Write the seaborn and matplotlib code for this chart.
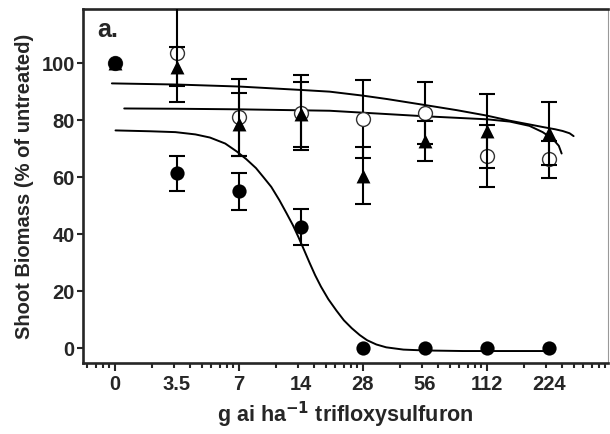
import numpy as np
import pandas as pd
import matplotlib
matplotlib.use("Agg")
import matplotlib.pyplot as plt
import matplotlib.ticker as mticker
import seaborn as sns

# rates (g ai/ha) and labels
doses = [0, 3.5, 7, 14, 28, 56, 112, 224]
dose_labels = ["0", "3.5", "7", "14", "28", "56", "112", "224"]

# shoot biomass, % of untreated, with SE
filled_mean = [100, 61.3, 55.0, 42.6, 0, 0, 0, 0]
filled_se = [0, 6.0, 6.6, 6.3, 0, 0, 0, 0]
open_mean = [100, 103.5, 81.0, 82.6, 80.4, 82.5, 67.4, 66.2]
open_se = [0, 17.0, 13.4, 13.2, 13.7, 10.8, 11.0, 6.4]
tri_mean = [100, 98.8, 78.6, 82.0, 60.5, 72.7, 76.2, 75.4]
tri_se = [0, 6.8, 11.0, 11.5, 10.0, 7.1, 12.9, 11.0]

# fitted curves
low_fit_dose = [1.76, 2.6, 3.44, 4.3, 5.06, 6.0, 6.83, 7.6, 8.46, 9.2, 10.04,
                11.0, 11.9, 12.8, 13.6, 14.5, 15.4, 16.4, 17.5, 19.0, 20.8,
                22.6, 24.7, 27.0, 29.3, 32.5, 36.3, 44, 55.7, 85.5, 224]
low_fit_val = [76.4, 76.1, 75.8, 75.0, 73.9, 71.8, 69.0, 66.3, 63.2, 60.0, 56.6,
               51.9, 47.4, 43.1, 39.0, 34.4, 30.0, 25.6, 21.6, 17.2, 13.2,
               9.8, 7.0, 4.6, 2.8, 1.3, 0.3, -0.5, -0.8, -1.0, -1.0]
top_fit_dose = [1.69, 3.5, 7, 14, 19.3, 28, 36.7, 56, 80, 111.7, 144.6, 180,
                208.7, 240, 261, 282, 295]
top_fit_val = [92.9, 92.5, 91.8, 90.6, 90.0, 88.6, 87.4, 85.3, 83.5, 81.6,
               79.8, 78.5, 77.6, 76.8, 76.2, 75.4, 74.4]
mid_fit_dose = [1.94, 3.5, 7, 19.3, 54.8, 112, 144.6, 180, 208.7, 233.8, 250,
                258]
mid_fit_val = [84.1, 84.0, 83.8, 83.3, 81.4, 80.3, 79.5, 78.0, 75.8, 73.4,
               71.0, 68.3]

ZERO_AT = 1.75  # untreated plotted one doubling left of 3.5


def xpos(d):
    # one decade of the log axis = two doublings of rate
    d = np.asarray(d, dtype=float)
    d = np.where(d > 0, d, ZERO_AT)
    return 10 ** (np.log2(d / ZERO_AT) / 2)


sns.set_style("ticks")
plt.rcParams["font.family"] = ["Liberation Sans", "DejaVu Sans"]
plt.rcParams["font.weight"] = "bold"
plt.rcParams["mathtext.default"] = "bf"

fig = plt.figure(figsize=(6.1, 4.34), dpi=100)
ax = fig.add_axes([83 / 610, 1 - 363 / 434, 525 / 610, 354 / 434])
ax.set_xscale("log")

for d, v in [(low_fit_dose, low_fit_val), (top_fit_dose, top_fit_val),
             (mid_fit_dose, mid_fit_val)]:
    sns.lineplot(x=xpos(d), y=v, ax=ax, color="black", lw=1.4,
                 sort=False, estimator=None, zorder=2)

series = [
    (open_mean, open_se, dict(marker="o", s=100, facecolor="white",
                              edgecolor="#333333", linewidth=1.0)),
    (tri_mean, tri_se, dict(marker="^", s=100, color="black", linewidth=0)),
    (filled_mean, filled_se, dict(marker="o", s=105, color="black", linewidth=0)),
]
x = xpos(doses)
for k, (m, se, style) in enumerate(series):
    se = np.array(se, dtype=float)
    se[se == 0] = np.nan
    ax.errorbar(x, m, yerr=se, fmt="none", ecolor="black", elinewidth=1.5,
                capsize=5.5, capthick=1.5, zorder=3 + 2 * k)
    sns.scatterplot(x=x, y=m, ax=ax, zorder=4 + 2 * k, **style)

ax.set_xlim(0.552, 9460)
ax.set_ylim(-5.2, 119)
ax.set_yticks([0, 20, 40, 60, 80, 100])

ax.set_xticks(xpos(doses))
ax.set_xticklabels(dose_labels)
ax.xaxis.set_minor_locator(mticker.LogLocator(base=10, subs=np.arange(2, 10)))
ax.xaxis.set_minor_formatter(mticker.NullFormatter())
ax.tick_params(axis="x", which="major", length=0, pad=8.5, labelsize=14.5)
ax.tick_params(axis="x", which="minor", length=3.5, width=1.5)
ax.tick_params(axis="y", length=4, width=1.5, labelsize=14.5, pad=2)

# longer decade marks
sec = ax.secondary_xaxis("bottom")
sec.set_xticks([1, 10, 100, 1000])
sec.set_xticklabels([])
sec.xaxis.set_minor_locator(mticker.NullLocator())
sec.tick_params(length=5.5, width=1.5)
sec.spines["bottom"].set_visible(False)

for side in ["left", "bottom", "top"]:
    ax.spines[side].set_linewidth(1.9)
ax.spines["right"].set_linewidth(0.8)
ax.spines["right"].set_color("#999999")

ax.set_xlabel("g ai ha$^{-1}$ trifloxysulfuron", fontsize=15.5,
              fontweight="bold", labelpad=4)
ax.set_ylabel("Shoot Biomass (% of untreated)", fontsize=14.5,
              fontweight="bold", labelpad=5)
ax.text(0.027, 0.921, "a.", transform=ax.transAxes, fontsize=18,
        fontweight="bold", va="baseline", ha="left")

fig.savefig("out.png", dpi=100)
